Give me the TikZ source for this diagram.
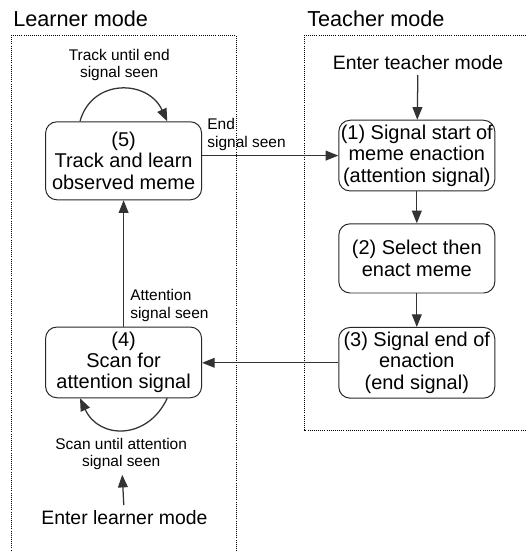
\documentclass[tikz,border=0pt]{standalone}
\usepackage{fontspec}
\setmainfont{Liberation Sans}
\usetikzlibrary{positioning}
\usetikzlibrary{arrows.meta}

\begin{document}
\begin{tikzpicture}[
  state/.style={draw=black!85, line width=0.7pt, rounded corners=8pt, align=center, minimum width=3.9cm, minimum height=1.73cm, inner xsep=1pt, font=\fontsize{14.2}{15.2}\selectfont},
  note/.style={align=center, font=\fontsize{11}{12.2}\selectfont},
  enter/.style={font=\fontsize{13.8}{15}\selectfont},
  flow/.style={draw=black!80, line width=0.9pt, -{Triangle[length=9pt,width=7pt]}},
  mode/.style={densely dotted, line width=0.5pt},
  title/.style={anchor=base west, inner sep=0pt, font=\fontsize{15.4}{18}\selectfont}]

\useasboundingbox (0,0) rectangle (13.15,-13.8);

% dotted mode frames
\draw[mode] (0.275,-0.875) rectangle (5.9,-14.5);
\draw[mode] (7.6,-0.875) rectangle (13.6,-10.75);
\node[title] (learner) at (0.325,-0.667) {Learner mode};
\node[title] (teacher) at (7.675,-0.667) {Teacher mode};

% states
\node[state, minimum height=1.95cm] (track) at (3.09,-4.02) {(5)\\Track and learn\\observed meme};
\node[state] (scan) at (3.09,-9.06) {(4)\\Scan for\\attention signal};
\node[state] (start) at (10.42,-3.89) {(1) Signal start of\\meme enaction\\(attention signal)};
\node[state] (enact) at (10.42,-6.46) {(2) Select then\\enact meme};
\node[state] (stop) at (10.42,-9.07) {(3) Signal end of\\enaction\\(end signal)};

\node[note] (trackloop) at (2.98,-1.62) {Track until end\\signal seen};
\node[note] (scanloop) at (3.03,-11.35) {Scan until attention\\signal seen};
\node[enter] (enterl) at (3.11,-12.93) {Enter learner mode};
\node[enter] (entert) at (10.45,-1.575) {Enter teacher mode};

% transitions
\draw[flow] (entert) -- (start);
\draw[flow] (start) -- (enact);
\draw[flow] (enact) -- (stop);
\draw[flow] (stop.west) -- (scan.east |- stop.west);
\draw[flow] (enterl) -- (scanloop);
\draw[flow] (track.east |- start.west) -- (start.west) node [pos=0, anchor=south west, note, align=left] (endseen) {End\\signal seen};
\draw[flow] (scan) -- (track) node [pos=0, anchor=south west, note, align=left, xshift=1pt] (attseen) {Attention\\signal seen};

% self loops
\draw[flow] ([xshift=-1.09cm]track.north) .. controls +(0.3,1.08) and +(-0.48,1.05) .. ([xshift=1.09cm]track.north);
\draw[flow] ([xshift=1.09cm]scan.south) .. controls +(-0.48,-1.04) and +(0.48,-1.04) .. ([xshift=-1.09cm]scan.south);
\end{tikzpicture}
\end{document}
